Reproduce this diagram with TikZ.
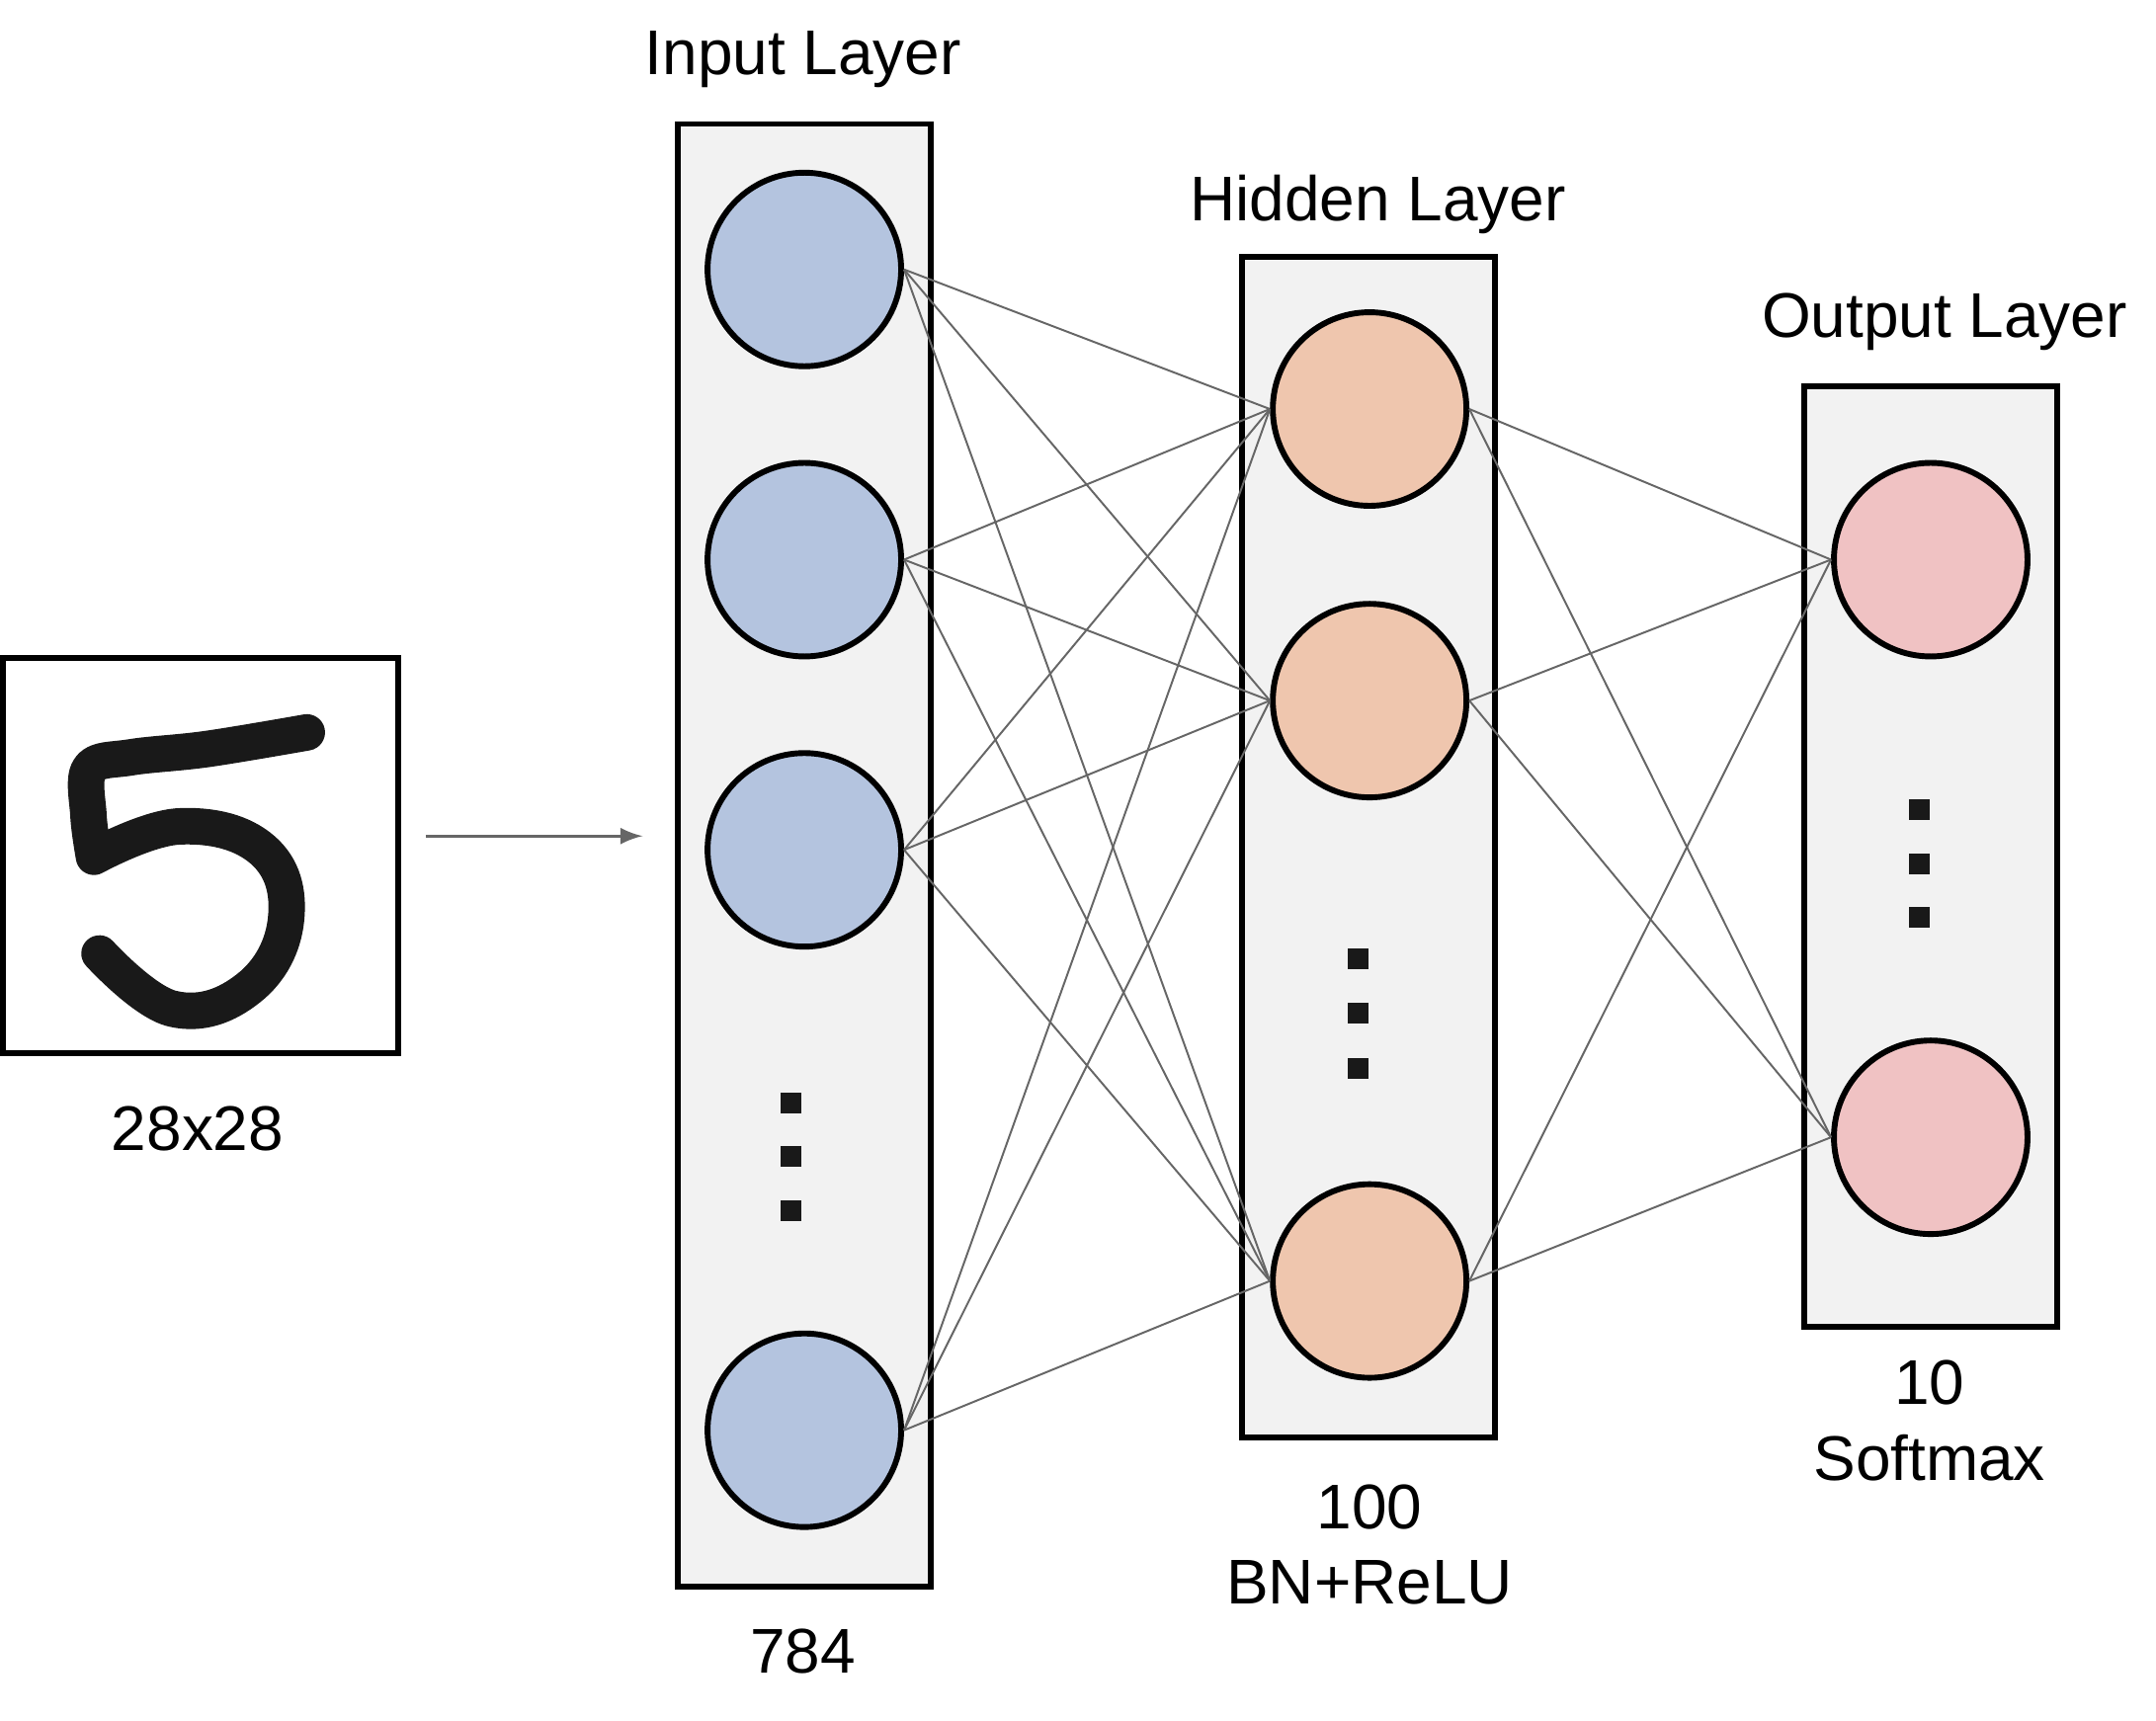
\documentclass[tikz,border=0pt]{standalone}
\usepackage{fontspec}
\setmainfont{Liberation Sans}
\usetikzlibrary{arrows}
\definecolor{inBlue}{HTML}{B4C4DF}
\definecolor{hidOrange}{HTML}{EFC6AE}
\definecolor{outPink}{HTML}{F0C2C3}
\definecolor{boxGray}{HTML}{F2F2F2}
\tikzset{>=latex,
  layerBox/.style={draw=black, line width=1.2pt, fill=boxGray},
  neuron/.style={circle, draw=black, line width=1.2pt, minimum size=1.4cm, inner sep=0pt},
  inNeuron/.style={neuron, fill=inBlue},
  hidNeuron/.style={neuron, fill=hidOrange},
  outNeuron/.style={neuron, fill=outPink},
  dotSq/.style={rectangle, fill=black!90, minimum size=0.15cm, inner sep=0pt},
  txt/.style={font=\fontsize{13}{15.5}\selectfont, align=center},
  weightLink/.style={draw=black!60, line width=0.4pt}
}
\begin{document}
\begin{tikzpicture}[x=0.01cm,y=-0.01cm]
  \useasboundingbox (0,0) rectangle (1560,1245);
  % input image
  \node (img) [draw=black, line width=1.2pt, fill=white, minimum size=2.86cm] at (145,619) {};
  \draw[line width=7.5pt, line cap=round, line join=round, black!90]
    plot[smooth, tension=0.6] coordinates {(222,530) (150,542) (95,548) (65,556) (64,590) (68,620)}
    plot[smooth, tension=0.7] coordinates {(68,620) (130,598) (190,615) (207,665) (180,715) (125,730) (72,690)};
  \node (imgLbl) [txt] at (143,817) {28x28};
  \coordinate (arrStart) at (308,605);
  \coordinate (arrEnd) at (465,605);
  \draw[->, black!60, line width=0.6pt] (arrStart) -- (arrEnd);
  % layer boxes
  \node (inBox) [layerBox, minimum width=1.83cm, minimum height=10.58cm] at (582,619) {};
  \node (hidBox) [layerBox, minimum width=1.83cm, minimum height=8.54cm] at (990,613) {};
  \node (outBox) [layerBox, minimum width=1.83cm, minimum height=6.80cm] at (1397,620) {};
  \node (inTitle) [txt] at (581,43) {Input Layer};
  \node (hidTitle) [txt] at (997,148) {Hidden Layer};
  \node (outTitle) [txt] at (1407,233) {Output Layer};
  \node (inLbl) [txt] at (581,1195) {784};
  \node (hidLbl) [txt] at (991,1118) {100\\BN+ReLU};
  \node (outLbl) [txt] at (1396,1028) {10\\Softmax};
  % neurons
  \foreach \n/\y in {1/195, 2/405, 3/615, 4/1035}
    \node (in\n) [inNeuron] at (582,\y) {};
  \foreach \n/\y in {1/296, 2/507, 3/927}
    \node (hid\n) [hidNeuron] at (991,\y) {};
  \foreach \n/\y in {1/405, 2/823}
    \node (out\n) [outNeuron] at (1397,\y) {};
  % ellipses
  \foreach \y in {798,837,876} \node [dotSq] at (572,\y) {};
  \foreach \y in {694,733,773} \node [dotSq] at (983,\y) {};
  \foreach \y in {586,625,664} \node [dotSq] at (1389,\y) {};
  % weights
  \foreach \i in {1,...,4}
    \foreach \h in {1,2,3}
      \draw[weightLink] (in\i.east) -- (hid\h.west);
  \foreach \h in {1,2,3}
    \foreach \o in {1,2}
      \draw[weightLink] (hid\h.east) -- (out\o.west);
\end{tikzpicture}
\end{document}
